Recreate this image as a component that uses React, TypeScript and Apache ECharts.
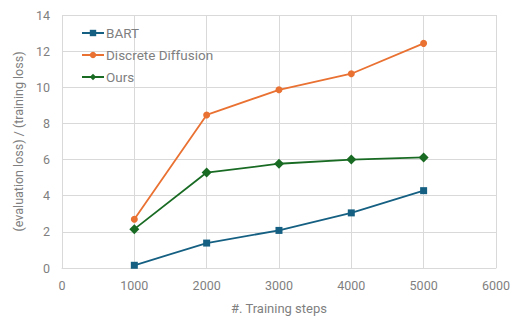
import React, { useEffect, useRef } from "react";
import * as echarts from "echarts";

const steps = [1000, 2000, 3000, 4000, 5000];
const bart = [0.15, 1.38, 2.08, 3.05, 4.28];
const discrete = [2.7, 8.47, 9.86, 10.75, 12.43];
const ours = [2.15, 5.28, 5.77, 6.0, 6.12];
const seriesNames = ["BART", "Discrete Diffusion", "Ours"];
const colors = ["#156082", "#E97132", "#196B24"];
const symbols = ["rect", "circle", "diamond"];
const symbolSizes = [7, 7, 10];

const FONT = "Roboto, 'Noto Sans', sans-serif";

export default function App() {
  const ref = useRef<HTMLDivElement>(null);
  useEffect(() => {
    const chart = echarts.init(ref.current!, null, { renderer: "svg" });
    const data = [bart, discrete, ours];
    chart.setOption({
      animation: false,
      textStyle: { fontFamily: FONT },
      grid: { left: 62, right: 17, top: 15, bottom: 49 },
      legend: {
        orient: "vertical",
        left: 76,
        top: 21,
        itemGap: 8,
        itemWidth: 22,
        itemHeight: 8,
        textStyle: { color: "#7f7f7f", fontSize: 13.5, fontFamily: FONT, padding: [0, 0, 0, -3] },
        data: seriesNames,
      },
      xAxis: {
        type: "value",
        min: 0,
        max: 6000,
        interval: 1000,
        name: "#. Training steps",
        nameLocation: "middle",
        nameGap: 34,
        nameTextStyle: { color: "#7f7f7f", fontSize: 13 },
        axisLine: { show: true, lineStyle: { color: "#d9d9d9" } },
        axisTick: { show: false },
        axisLabel: { color: "#7f7f7f", fontSize: 12.5, margin: 11, formatter: (v: number) => String(v) },
        splitLine: { show: true, lineStyle: { color: "#d9d9d9" } },
      },
      yAxis: {
        type: "value",
        min: 0,
        max: 14,
        interval: 2,
        name: "(evaluation loss) / (training loss)",
        nameLocation: "middle",
        nameGap: 36,
        nameTextStyle: { color: "#7f7f7f", fontSize: 12.5 },
        axisLine: { show: false },
        axisTick: { show: false },
        axisLabel: { color: "#7f7f7f", fontSize: 12.5, margin: 12 },
        splitLine: { show: true, lineStyle: { color: "#d9d9d9" } },
      },
      series: seriesNames.map((name, i) => ({
        name,
        type: "line",
        data: steps.map((s, j) => [s, data[i][j]]),
        symbol: symbols[i],
        symbolSize: symbolSizes[i],
        showAllSymbol: true,
        lineStyle: { color: colors[i], width: 1.8 },
        itemStyle: { color: colors[i] },
      })),
    });
    return () => chart.dispose();
  }, []);
  return <div ref={ref} style={{ width: 513, height: 320, position: "absolute", left: 0, top: 0 }} />;
}
